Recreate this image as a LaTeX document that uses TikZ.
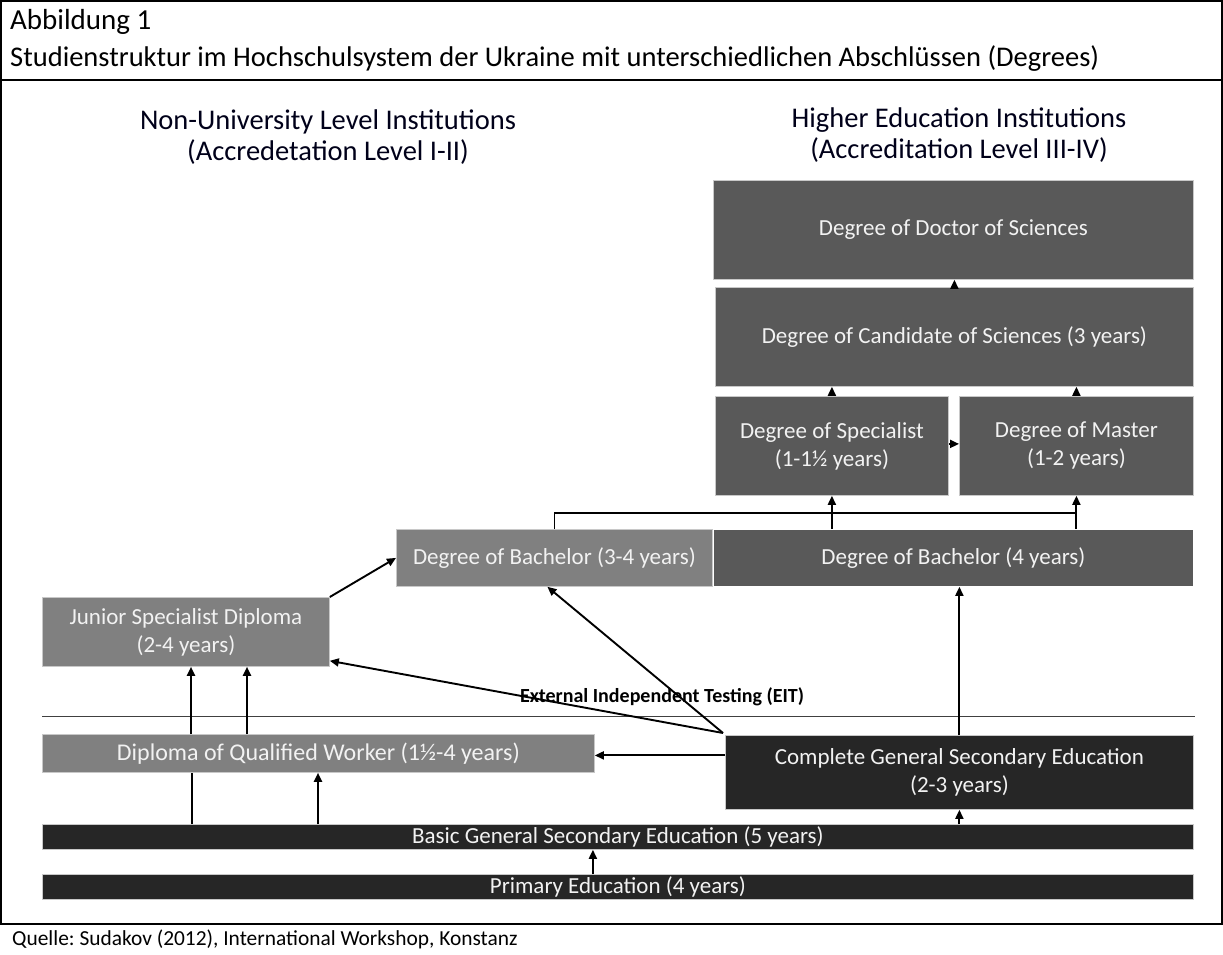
\documentclass[tikz,border=0pt]{standalone}
\usepackage{fontspec}
\setmainfont{Carlito}
\frenchspacing
\usetikzlibrary{arrows.meta,calc}
\definecolor{gA}{HTML}{595959}
\definecolor{gB}{HTML}{808080}
\definecolor{gC}{HTML}{262626}
\definecolor{bordergrey}{HTML}{C8C8C8}
\definecolor{boxtext}{HTML}{F2F2F2}
\tikzset{
  box/.style={draw=bordergrey, line width=0.8pt, inner sep=0pt, align=center, anchor=north west,
    text=boxtext, font=\fontsize{23}{28}\selectfont},
  arr/.style={line width=1.9pt, -{Triangle[length=9pt,width=8pt]}},
  plain/.style={line width=1.9pt},
  thinline/.style={line width=1.2pt},
  head/.style={align=center, font=\fontsize{28.5}{31.5}\selectfont, text=black!90!blue},
}
\begin{document}
\begin{tikzpicture}[x=1pt,y=-1pt]
\useasboundingbox (0,0) rectangle (1223,955);
% frame
\draw[line width=1.5pt] (1,1) rectangle (1222,924);
\draw[line width=1.5pt] (1,80) -- (1222,80);
\node[anchor=base west, inner sep=0, font=\fontsize{29}{34}\selectfont] (t1) at (10,30) {Abbildung 1};
\node[anchor=base west, inner sep=0, font=\fontsize{28.5}{34}\selectfont] (t2) at (10,67) {Studienstruktur im Hochschulsystem der Ukraine mit unterschiedlichen Abschlüssen (Degrees)};
\node[anchor=base west, inner sep=0, font=\fontsize{21.4}{26}\selectfont] (src) at (12,945) {Quelle: Sudakov (2012), International Workshop, Konstanz};
% headers
\node[head] (h1) at (328,137) {Non-University Level Institutions\\(Accredetation Level I-II)};
\node[head] (h2) at (959,135) {Higher Education Institutions\\(Accreditation Level III-IV)};
% boxes
\node[box, fill=gA, minimum width=480pt, minimum height=99pt] (doc) at (713,180) {Degree of Doctor of Sciences};
\node[box, fill=gA, minimum width=478pt, minimum height=99pt] (cand) at (715,287) {Degree of Candidate of Sciences (3 years)};
\node[box, fill=gA, minimum width=233pt, minimum height=99pt] (spec) at (715,396) {Degree of Specialist\\(1-1½ years)};
\node[box, fill=gA, minimum width=234pt, minimum height=99pt] (mast) at (959,396) {Degree of Master\\(1-2 years)};
\node[box, fill=gB, minimum width=316pt, minimum height=57pt] (bach34) at (396,529) {Degree of Bachelor (3-4 years)};
\node[box, fill=gA, draw=white, minimum width=480pt, minimum height=57pt] (bach4) at (713,529) {Degree of Bachelor (4 years)};
\node[box, fill=gB, minimum width=287pt, minimum height=69pt] (jun) at (42,597) {Junior Specialist Diploma\\(2-4 years)};
\node[box, fill=gB, minimum width=552pt, minimum height=38pt, font=\fontsize{24}{28}\selectfont] (dqw) at (42,734) {Diploma of Qualified Worker (1½-4 years)};
\node[box, fill=gC, minimum width=468pt, minimum height=74pt] (cgse) at (725,735) {Complete General Secondary Education\\(2-3 years)};
\node[box, fill=gC, minimum width=1151pt, minimum height=25pt] (basic) at (42,824) {Basic General Secondary Education (5 years)};
\node[box, fill=gC, minimum width=1151pt, minimum height=25pt] (prim) at (42,874) {Primary Education (4 years)};
% EIT
\draw[line width=1pt, black!75] (42,716) -- (1195,716);
% arrows upper right
\draw[arr] (cand.north) -- (cand.north |- doc.south);
\draw[arr] (spec.north) -- (spec.north |- cand.south);
\draw[arr] (mast.north) -- (mast.north |- cand.south);
\draw[arr] ([yshift=2pt]spec.east) -- ([yshift=2pt]mast.west);
\draw[arr] (spec.south |- bach4.north) -- (spec.south);
\draw[arr] (mast.south |- bach4.north) -- (mast.south);
\coordinate (cj) at ([yshift=16pt]bach34.north);
\draw[thinline] (bach34.north) -- (cj) -- (cj -| mast.south);
% from complete secondary
\draw[arr] (cgse.north) -- (cgse.north |- bach4.south);
\draw[arr] ([xshift=-2pt,yshift=2pt]cgse.north west) -- ([xshift=-7pt]bach34.south);
\draw[arr] ([xshift=-2pt,yshift=2pt]cgse.north west) -- ([yshift=6pt]jun.south east);
\draw[arr] ([yshift=17pt]cgse.west) -- ([yshift=17pt]cgse.west -| dqw.east);
\draw[arr] (jun.north east) -- (bach34.west);
\node[font=\bfseries\fontsize{20}{24}\selectfont, inner sep=0] (eit) at (662,697) {External Independent Testing (EIT)};
% lower
\draw[arr] (cgse.south |- basic.north) -- (cgse.south);
\draw[arr] ([xshift=-25pt]prim.north) -- ([xshift=-25pt]basic.south);
\draw[plain] ([xshift=150pt]dqw.south west |- basic.north) -- ([xshift=150pt]dqw.south west);
\draw[arr] ([xshift=276pt]dqw.south west |- basic.north) -- ([xshift=276pt]dqw.south west);
\draw[arr] ([xshift=149pt]dqw.north west) -- ([xshift=149pt]jun.south west);
\draw[arr] ([xshift=205pt]dqw.north west) -- ([xshift=205pt]jun.south west);
\end{tikzpicture}
\end{document}
